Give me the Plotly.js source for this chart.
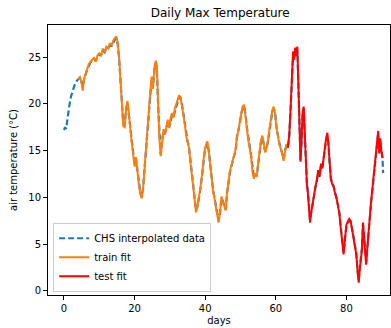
<!DOCTYPE html>
<html>
<head>
<meta charset="utf-8">
<script src="https://cdn.plot.ly/plotly-3.0.1.min.js"></script>
<style>html,body{margin:0;padding:0;background:#fff;}#chart{width:391px;height:328px;}</style>
</head>
<body>
<div id="chart"></div>
<script>
// CHS interpolated data (days, °C)
const chsDays = [0,0.3,0.6,1.0,1.5,2.0,2.5,3.0,3.5,4.0,4.5,5.0,5.3,5.7,6.0,6.5,7.0,7.5,8.0,8.5,9.0,9.5,10.0,10.5,11.0,11.5,12.0,12.5,13.0,13.5,14.0,14.5,14.8,15.2,15.6,16.0,16.4,16.8,17.2,17.6,18.0,18.4,18.8,19.2,19.6,20.0,20.4,20.8,21.2,21.6,22.0,22.4,22.8,23.2,23.6,24.0,24.4,24.8,25.2,25.6,26.0,26.3,26.7,27.0,27.4,27.8,28.2,28.6,29.0,29.4,29.8,30.2,30.6,31.0,31.4,31.8,32.2,32.6,33.0,33.4,33.8,34.2,34.6,35.0,35.4,35.8,36.2,36.6,37.0,37.4,37.8,38.2,38.6,39.0,39.4,39.8,40.2,40.6,41.0,41.4,41.8,42.2,42.6,43.0,43.4,43.8,44.2,44.6,45.0,45.4,45.8,46.2,46.6,47.0,47.4,47.8,48.2,48.6,49.0,49.4,49.8,50.2,50.6,51.0,51.4,51.8,52.2,52.6,53.0,53.4,53.8,54.2,54.6,55.0,55.4,55.8,56.2,56.6,57.0,57.4,57.8,58.2,58.6,59.0,59.4,59.8,60.2,60.6,61.0,61.4,61.8,62.2,62.6,63.0,63.4,63.8,64.2,64.6,64.9,65.2,65.5,65.8,66.1,66.4,66.7,67.0,67.3,67.6,67.9,68.2,68.5,68.8,69.1,69.4,69.7,70.0,70.4,70.8,71.2,71.6,72.0,72.4,72.8,73.2,73.6,74.0,74.3,74.6,74.9,75.2,75.6,76.0,76.4,76.8,77.2,77.6,78.0,78.4,78.8,79.2,79.6,80.0,80.4,80.8,81.2,81.6,82.0,82.4,82.8,83.2,83.5,83.8,84.1,84.4,84.7,85.0,85.3,85.6,85.9,86.2,86.6,87.0,87.4,87.8,88.2,88.6,89.0,89.3,89.6,89.9,90.2,90.4];
const chsTemp = [17.2,17.5,17.3,18.5,19.8,20.8,21.5,22.0,22.4,22.6,22.8,22.3,21.8,22.6,23.0,23.6,24.0,24.4,24.6,24.8,24.6,25.0,25.3,25.2,25.7,25.5,25.9,25.9,26.3,26.2,26.6,26.9,27.0,26.4,24.9,22.4,19.8,17.9,17.7,19.4,20.1,18.6,17.0,16.0,14.8,13.6,14.1,12.9,11.6,10.6,10.0,11.0,13.0,15.1,17.0,18.9,20.9,22.6,21.8,23.6,24.3,23.8,19.5,16.6,14.6,16.0,17.1,16.8,17.5,18.1,17.5,18.3,18.8,18.6,19.3,19.7,20.2,20.7,20.6,20.0,19.0,18.0,16.8,16.0,15.4,14.0,12.5,11.0,9.7,8.6,9.0,9.8,10.8,12.0,13.4,14.7,15.4,15.8,15.0,13.5,12.0,10.9,10.0,9.1,8.1,7.5,8.3,9.9,9.6,9.0,8.7,10.4,11.9,12.7,13.3,13.8,14.4,15.0,16.4,17.0,17.9,18.9,19.5,19.7,19.0,17.5,16.2,15.5,14.5,12.9,12.1,12.5,12.3,13.5,14.9,15.9,16.4,15.5,14.9,15.3,16.0,17.1,18.1,19.1,19.5,19.0,17.5,16.5,15.8,15.3,14.8,14.1,15.0,15.5,15.3,16.4,19.4,22.4,25.3,24.8,25.8,25.1,25.8,22.0,17.1,14.0,16.0,18.9,19.5,16.5,13.1,11.6,10.6,9.1,7.6,8.3,9.3,10.2,11.0,11.7,12.7,12.3,13.4,13.2,14.4,15.4,16.2,16.6,15.8,13.9,12.1,11.5,11.2,10.5,10.0,9.2,8.4,6.9,5.1,4.1,5.5,6.9,7.3,7.5,7.4,6.8,5.9,4.9,4.1,2.1,1.2,2.5,3.5,4.6,7.1,5.5,4.5,3.1,4.5,6.0,7.7,9.4,10.9,12.4,13.9,15.4,16.8,14.9,16.0,15.0,14.4,12.6];

// train fit
const trainDays = [4.0,4.5,5.0,5.3,5.7,6.0,6.5,7.0,7.5,8.0,8.5,9.0,9.5,10.0,10.5,11.0,11.5,12.0,12.5,13.0,13.5,14.0,14.5,14.8,15.2,15.6,16.0,16.4,16.8,17.2,17.6,18.0,18.4,18.8,19.2,19.6,20.0,20.4,20.8,21.2,21.6,22.0,22.4,22.8,23.2,23.6,24.0,24.4,24.8,25.2,25.6,26.0,26.3,26.7,27.0,27.4,27.8,28.2,28.6,29.0,29.4,29.8,30.2,30.6,31.0,31.4,31.8,32.2,32.6,33.0,33.4,33.8,34.2,34.6,35.0,35.4,35.8,36.2,36.6,37.0,37.4,37.8,38.2,38.6,39.0,39.4,39.8,40.2,40.6,41.0,41.4,41.8,42.2,42.6,43.0,43.4,43.8,44.2,44.6,45.0,45.4,45.8,46.2,46.6,47.0,47.4,47.8,48.2,48.6,49.0,49.4,49.8,50.2,50.6,51.0,51.4,51.8,52.2,52.6,53.0,53.4,53.8,54.2,54.6,55.0,55.4,55.8,56.2,56.6,57.0,57.4,57.8,58.2,58.6,59.0,59.4,59.8,60.2,60.6,61.0,61.4,61.8,62.2,62.6,63.0,63.4];
const trainTemp = [22.6,22.9,22.2,21.4,22.7,23.1,23.7,24.2,24.5,24.7,24.9,24.5,25.2,25.4,25.1,25.9,25.5,26.1,25.9,26.5,26.2,26.8,27.0,27.2,26.6,25.1,22.5,19.7,17.6,17.5,19.6,20.3,18.5,16.9,15.8,14.6,13.3,14.3,12.7,11.4,10.4,9.9,10.9,13.1,15.3,17.2,19.1,21.1,22.9,21.6,23.9,24.6,24.1,19.4,16.4,14.4,16.1,17.3,16.7,17.7,18.3,17.4,18.5,19.0,18.5,19.5,19.9,20.4,20.9,20.7,19.9,18.9,17.9,16.6,15.9,15.3,13.8,12.3,10.8,9.5,8.4,9.1,9.9,10.9,12.1,13.6,14.9,15.6,16.0,15.0,13.4,11.9,10.8,9.9,8.9,7.9,7.3,8.4,10.1,9.5,8.9,8.6,10.5,12.0,12.8,13.4,13.9,14.5,15.1,16.6,17.1,18.1,19.1,19.7,19.9,18.9,17.4,16.1,15.4,14.4,12.7,12.0,12.6,12.2,13.6,15.1,16.1,16.6,15.4,14.8,15.4,16.1,17.3,18.3,19.3,19.7,18.9,17.4,16.4,15.7,15.2,14.7,13.9,15.1,15.7,15.3];

// test fit
const testDays = [63.4,63.8,64.2,64.6,64.9,65.2,65.5,65.8,66.1,66.4,66.7,67.0,67.3,67.6,67.9,68.2,68.5,68.8,69.1,69.4,69.7,70.0,70.4,70.8,71.2,71.6,72.0,72.4,72.8,73.2,73.6,74.0,74.3,74.6,74.9,75.2,75.6,76.0,76.4,76.8,77.2,77.6,78.0,78.4,78.8,79.2,79.6,80.0,80.4,80.8,81.2,81.6,82.0,82.4,82.8,83.2,83.5,83.8,84.1,84.4,84.7,85.0,85.3,85.6,85.9,86.2,86.6,87.0,87.4,87.8,88.2,88.6,89.0,89.3,89.6,89.9,90.2];
const testTemp = [15.3,16.6,19.6,22.6,25.6,24.7,26.0,25.2,26.1,22.1,16.9,13.8,16.1,19.1,19.7,16.4,12.9,11.4,10.4,8.9,7.3,8.3,9.4,10.3,11.1,11.8,12.9,12.2,13.6,13.1,14.6,15.6,16.4,16.9,15.7,13.7,11.9,11.4,11.1,10.4,9.9,9.1,8.3,6.7,4.9,3.9,5.6,7.1,7.4,7.7,7.5,6.7,5.8,4.7,3.9,1.9,0.9,2.4,3.4,4.4,7.3,5.4,4.4,2.8,4.4,6.1,7.9,9.6,11.1,12.6,14.1,15.6,17.1,14.7,16.3,15.0,14.2];

const xTicks = [0,20,40,60,80];
const yTicks = [0,5,10,15,20,25];

const traces = [
  {x: chsDays, y: chsTemp, type: 'scatter', mode: 'lines', name: 'CHS interpolated data',
   line: {color: '#1f77b4', width: 2.2, dash: '6px,3px'}},
  {x: trainDays, y: trainTemp, type: 'scatter', mode: 'lines', name: 'train fit',
   line: {color: '#ff7f0e', width: 2}},
  {x: testDays, y: testTemp, type: 'scatter', mode: 'lines', name: 'test fit',
   line: {color: '#ff0000', width: 2}}
];

const axisCommon = {
  showgrid: false, zeroline: false, showline: true, linecolor: '#000', linewidth: 1,
  mirror: true, ticks: 'outside', ticklen: 4, tickwidth: 1, tickcolor: '#000',
  tickfont: {family: 'DejaVu Sans', size: 10, color: '#000'}
};

const layout = {
  width: 391, height: 328,
  margin: {l: 48, r: 1, t: 25, b: 33},
  paper_bgcolor: '#fff', plot_bgcolor: '#fff',
  font: {family: 'DejaVu Sans', color: '#000'},
  title: {text: 'Daily Max Temperature', font: {family: 'DejaVu Sans', size: 12, color: '#000'},
          x: 0.563, xanchor: 'center', y: 0.96, yanchor: 'middle'},
  xaxis: Object.assign({}, axisCommon, {
    range: [-4.53, 92.35], tickvals: xTicks, ticktext: xTicks.map(String),
    title: {text: 'days', font: {family: 'DejaVu Sans', size: 10, color: '#000'}, standoff: 3}
  }),
  yaxis: Object.assign({}, axisCommon, {
    range: [-0.43, 28.42], tickvals: yTicks, ticktext: yTicks.map(String),
    title: {text: 'air temperature (°C)', font: {family: 'DejaVu Sans', size: 10, color: '#000'}, standoff: 8}
  }),
  showlegend: true,
  legend: {x: 0.015, y: 0.012, xanchor: 'left', yanchor: 'bottom',
           bgcolor: 'rgba(255,255,255,0.8)', bordercolor: '#cccccc', borderwidth: 1,
           font: {family: 'DejaVu Sans', size: 10, color: '#000'}, tracegroupgap: 0, itemwidth: 30}
};

Plotly.newPlot('chart', traces, layout, {displayModeBar: false, staticPlot: true});
</script>
</body>
</html>
